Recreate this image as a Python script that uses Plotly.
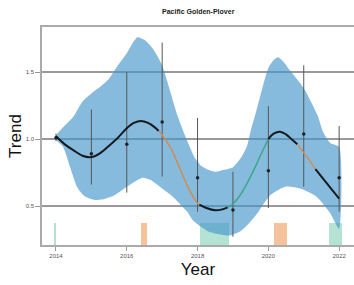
import plotly.graph_objects as go

# ---- data ----
years = [2014, 2015, 2016, 2017, 2018, 2019, 2020, 2021, 2022]
index_mean = [1.01, 0.89, 0.96, 1.127, 0.71, 0.47, 0.763, 1.037, 0.71]
index_upper = [1.04, 1.22, 1.50, 1.72, 1.157, 0.756, 1.246, 1.55, 1.097]
index_lower = [0.985, 0.66, 0.60, 0.72, 0.457, 0.27, 0.485, 0.644, 0.457]

band_years_upper = [2014.0, 2014.25, 2014.5, 2014.75, 2015.0, 2015.25, 2015.5, 2015.75, 2016.0,
                    2016.15, 2016.3, 2016.5, 2016.75, 2017.0, 2017.2, 2017.4, 2017.55, 2017.75,
                    2017.9, 2018.1, 2018.3, 2018.5, 2018.75, 2019.0, 2019.25, 2019.4, 2019.5,
                    2019.67, 2019.85, 2020.0, 2020.15, 2020.28, 2020.45, 2020.6, 2020.8, 2021.0,
                    2021.2, 2021.4, 2021.55, 2021.75, 2022.0]
band_upper = [1.03, 1.10, 1.17, 1.28, 1.34, 1.39, 1.45, 1.55, 1.64,
              1.71, 1.76, 1.74, 1.67, 1.55, 1.38, 1.20, 1.09, 0.96,
              0.87, 0.80, 0.77, 0.755, 0.77, 0.79, 0.87, 0.95, 1.06,
              1.22, 1.40, 1.53, 1.59, 1.61, 1.57, 1.515, 1.45, 1.38,
              1.28, 1.17, 1.05, 0.97, 0.94]
band_years_lower = [2014.0, 2014.2, 2014.4, 2014.6, 2014.8, 2015.1, 2015.4, 2015.65, 2016.1,
                    2016.45, 2016.7, 2016.85, 2017.1, 2017.3, 2017.7, 2017.85, 2018.07, 2018.3,
                    2018.6, 2018.9, 2019.2, 2019.45, 2019.7, 2020.05, 2020.5, 2020.9, 2021.36,
                    2021.74, 2022.0]
band_lower = [0.99, 0.94, 0.79, 0.64, 0.575, 0.545, 0.555, 0.58, 0.66,
              0.71, 0.69, 0.66, 0.61, 0.57, 0.46, 0.40, 0.35, 0.31,
              0.29, 0.28, 0.31, 0.37, 0.45, 0.58, 0.645, 0.63, 0.57,
              0.45, 0.33]

trend_segments = [
    ("black", [2014.0, 2014.25, 2014.5, 2014.75, 2015.0, 2015.25, 2015.5, 2015.75, 2016.0, 2016.2, 2016.4, 2016.6, 2016.8, 2016.9],
              [1.02, 0.96, 0.915, 0.875, 0.865, 0.895, 0.95, 1.01, 1.08, 1.12, 1.135, 1.12, 1.085, 1.06]),
    ("orange", [2016.9, 2017.0, 2017.25, 2017.5, 2017.75, 2018.0, 2018.05],
               [1.06, 1.03, 0.93, 0.78, 0.63, 0.52, 0.51]),
    ("black", [2018.05, 2018.25, 2018.5, 2018.7, 2018.85],
              [0.51, 0.485, 0.468, 0.475, 0.49]),
    ("green", [2018.85, 2019.0, 2019.2, 2019.4, 2019.6, 2019.8, 2020.0],
              [0.49, 0.515, 0.58, 0.67, 0.775, 0.89, 1.0]),
    ("black", [2020.0, 2020.15, 2020.33, 2020.5, 2020.65, 2020.82],
              [1.0, 1.04, 1.055, 1.035, 1.0, 0.96]),
    ("orange", [2020.82, 2021.08, 2021.33],
               [0.96, 0.87, 0.775]),
    ("black", [2021.33, 2021.5, 2021.65, 2021.8, 2022.0],
              [0.775, 0.72, 0.67, 0.62, 0.555]),
]

bar_centers = [2013.98, 2016.48, 2018.48, 2020.345, 2021.895]
bar_widths = [0.06, 0.16, 0.82, 0.35, 0.35]
bar_kinds = ["green", "orange", "green", "orange", "green"]
bar_top = 0.373

title_text = "Pacific Golden-Plover"

seg_colors = {"black": "#151a1e", "orange": "#d08c52", "green": "#3aa886"}
bar_colors = {"green": "rgba(140,212,188,0.65)", "orange": "rgba(240,168,115,0.7)"}

y_min, y_max = 0.209, 1.836

fig = go.Figure()

# bars at bottom
fig.add_trace(go.Bar(
    x=bar_centers, y=[bar_top - y_min] * len(bar_centers), base=[y_min] * len(bar_centers),
    width=bar_widths, marker=dict(color=[bar_colors[k] for k in bar_kinds], line=dict(width=0)),
    showlegend=False, hoverinfo="skip"))

# confidence band
fig.add_trace(go.Scatter(
    x=band_years_upper + band_years_lower[::-1],
    y=band_upper + band_lower[::-1],
    fill="toself", fillcolor="rgba(70,150,205,0.65)",
    line=dict(width=0, shape="spline", smoothing=0.6), mode="lines",
    showlegend=False, hoverinfo="skip"))

# index points with error bars
fig.add_trace(go.Scatter(
    x=years, y=index_mean, mode="markers",
    marker=dict(size=3.5, color="#222"),
    error_y=dict(type="data", symmetric=False,
                 array=[u - m for u, m in zip(index_upper, index_mean)],
                 arrayminus=[m - l for m, l in zip(index_mean, index_lower)],
                 color="#555", thickness=1, width=0),
    showlegend=False))

# trend line
for kind, xs, ys in trend_segments:
    fig.add_trace(go.Scatter(
        x=xs, y=ys, mode="lines",
        line=dict(color=seg_colors[kind], width=2.0 if kind == "black" else 1.5, shape="spline"),
        showlegend=False))

fig.add_annotation(text="<b>" + title_text + "</b>", xref="paper", yref="paper",
                   x=0.5, y=1.069, xanchor="center", yanchor="middle", showarrow=False,
                   font=dict(size=7, color="#222"))

fig.update_layout(
    width=354, height=285,
    margin=dict(l=42, r=0, t=27, b=40, autoexpand=False),
    paper_bgcolor="white", plot_bgcolor="white",
    font=dict(family="Liberation Sans, Arial, sans-serif", color="#111"),
    bargap=0,
    xaxis=dict(range=[2013.605, 2022.42], tickvals=[2014, 2016, 2018, 2020, 2022],
               ticktext=["2014", "2016", "2018", "2020", "2022"],
               showgrid=False, zeroline=False, automargin=False,
               showline=True, linecolor="#aaa", linewidth=1.5, mirror=True,
               ticks="outside", ticklen=4, tickcolor="#999",
               tickfont=dict(size=6, color="#555"),
               title=dict(text="Year", font=dict(size=17, color="#111"), standoff=5)),
    yaxis=dict(range=[y_min, y_max], tickvals=[0.5, 1.0, 1.5], ticktext=["0.5", "1.0", "1.5"],
               showgrid=True, gridcolor="#999", gridwidth=1.5, zeroline=False, automargin=False,
               showline=True, linecolor="#aaa", linewidth=1.5, mirror=True,
               ticks="outside", ticklen=5, tickcolor="#999",
               tickfont=dict(size=6, color="#555"),
               title=dict(text="Trend", font=dict(size=17, color="#111"), standoff=0)),
)

fig.write_html("out.html", config={"displayModeBar": False},
               post_script="document.body.style.margin='0';")
